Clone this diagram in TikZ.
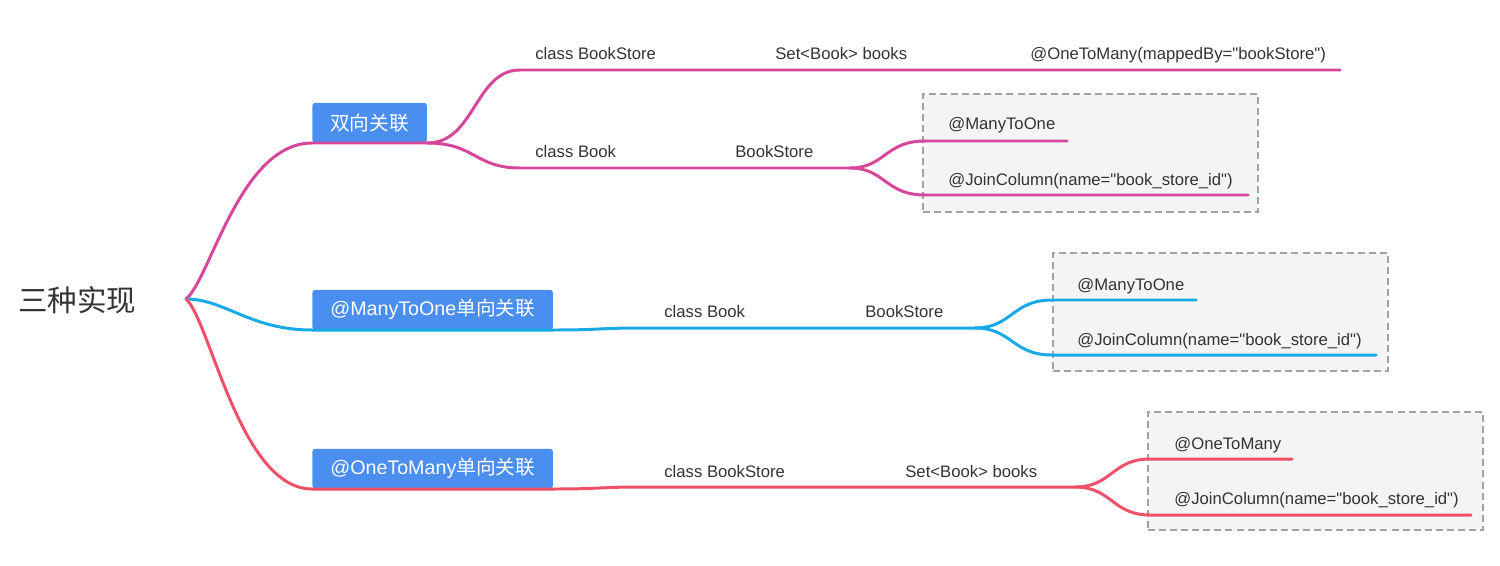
\documentclass[tikz,border=0pt]{standalone}
\usepackage{fontspec}
\newfontfamily\latinfont{Liberation Sans}
\newfontfamily\cjk{Noto Sans CJK SC}
\usetikzlibrary{positioning}

\definecolor{linkpink}{HTML}{D6469B}
\definecolor{linkcyan}{HTML}{18A9E6}
\definecolor{linkred}{HTML}{EF5068}
\definecolor{topicblue}{HTML}{4A8EEF}
\definecolor{noteframe}{HTML}{A2A2A2}
\definecolor{notefill}{HTML}{F3F4F6}
\definecolor{inktext}{HTML}{333333}

\begin{document}
\begin{tikzpicture}[
    x=0.02cm, y=-0.02cm,
    roottext/.style={font=\cjk\fontsize{16.8}{20}\selectfont, text=inktext, inner sep=0pt},
    topicbox/.style={rectangle, fill=topicblue, text=white, rounded corners=1.7pt, minimum height=22.7pt, inner xsep=10.2pt, inner ysep=0pt, anchor=south west, font=\latinfont\fontsize{11.2}{13}\selectfont},
    leaftext/.style={anchor=base west, inner sep=0pt, text=inktext, font=\latinfont\fontsize{9.5}{11}\selectfont},
    notebox/.style={rectangle, draw=noteframe, fill=notefill, line width=1.1pt, dash pattern=on 4pt off 2.3pt, anchor=north west, minimum width=6.7cm, minimum height=2.36cm, inner sep=0pt},
    branch/.style={line width=1.7pt, line cap=round}
]

\useasboundingbox (0,0) rectangle (1500,565);

% Dashed note frames
\node[notebox] (pinknote) at (922,93) {};
\node[notebox] (cyannote) at (1052,252) {};
\node[notebox] (rednote) at (1147,411) {};

% Root topic
\coordinate (hub) at (186,299);
\node[roottext, anchor=west] (root) at (18,300) {三种实现};

% Main topics
\node[topicbox] (twoway) at (312,143) {\cjk 双向关联};
\node[topicbox] (manyone) at (312,330) {@ManyToOne\cjk 单向关联};
\node[topicbox] (onemany) at (312,489) {@OneToMany\cjk 单向关联};

% Labels of the two-way branch
\node[leaftext] (pstore) at (535,59) {class BookStore};
\node[leaftext] (pset) at (775,59) {Set<Book> books};
\node[leaftext] (pmapped) at (1030,59) {@OneToMany(mappedBy="bookStore")};
\node[leaftext] (pbook) at (535,157) {class Book};
\node[leaftext] (pfield) at (735,157) {BookStore};
\node[leaftext] (pmto) at (948,129) {@ManyToOne};
\node[leaftext] (pjoin) at (948,185) {@JoinColumn(name="book\_store\_id")};

% Labels of the many-to-one branch
\node[leaftext] (cbook) at (664,317) {class Book};
\node[leaftext] (cfield) at (865,317) {BookStore};
\node[leaftext] (cmto) at (1077,290) {@ManyToOne};
\node[leaftext] (cjoin) at (1077,345) {@JoinColumn(name="book\_store\_id")};

% Labels of the one-to-many branch
\node[leaftext] (rstore) at (664,477) {class BookStore};
\node[leaftext] (rset) at (905,477) {Set<Book> books};
\node[leaftext] (rotm) at (1174,449) {@OneToMany};
\node[leaftext] (rjoin) at (1174,504) {@JoinColumn(name="book\_store\_id")};

% Junctions and line ends
\coordinate (pup) at (520,70);
\coordinate (pupend) at (1340,70);
\coordinate (plow) at (520,168);
\coordinate (pfork) at (850,168);
\coordinate (pa) at (925,141);
\coordinate (paend) at (1067,141);
\coordinate (pb) at (925,195);
\coordinate (pbend) at (1248,195);

\coordinate (cfork) at (975,328);
\coordinate (ca) at (1052,300);
\coordinate (caend) at (1196,300);
\coordinate (cb) at (1052,355);
\coordinate (cbend) at (1376,355);

\coordinate (rfork) at (1075,487);
\coordinate (ra) at (1150,459);
\coordinate (raend) at (1292,459);
\coordinate (rb) at (1150,515);
\coordinate (rbend) at (1471,515);

% Two-way branch
\draw[branch, linkpink] (hub) .. controls (210,280) and (240,143) .. (twoway.south west) -- (twoway.south east);
\draw[branch, linkpink] (twoway.south east) .. controls (475,143) and (475,70) .. (pup) -- (pupend);
\draw[branch, linkpink] (twoway.south east) .. controls (475,143) and (475,168) .. (plow) -- (pfork);
\draw[branch, linkpink] (pfork) .. controls (885,168) and (885,141) .. (pa) -- (paend);
\draw[branch, linkpink] (pfork) .. controls (885,168) and (885,195) .. (pb) -- (pbend);

% Many-to-one branch
\draw[branch, linkcyan] (hub) .. controls (225,299) and (250,330) .. (manyone.south west) -- (manyone.south east);
\draw[branch, linkcyan] (manyone.south east) .. controls (600,330) and (600,328) .. (640,328) -- (cfork);
\draw[branch, linkcyan] (cfork) .. controls (1012,328) and (1012,300) .. (ca) -- (caend);
\draw[branch, linkcyan] (cfork) .. controls (1012,328) and (1012,355) .. (cb) -- (cbend);

% One-to-many branch
\draw[branch, linkred] (hub) .. controls (210,320) and (240,489) .. (onemany.south west) -- (onemany.south east);
\draw[branch, linkred] (onemany.south east) .. controls (600,489) and (600,487) .. (640,487) -- (rfork);
\draw[branch, linkred] (rfork) .. controls (1112,487) and (1112,459) .. (ra) -- (raend);
\draw[branch, linkred] (rfork) .. controls (1112,487) and (1112,515) .. (rb) -- (rbend);

\end{tikzpicture}
\end{document}
